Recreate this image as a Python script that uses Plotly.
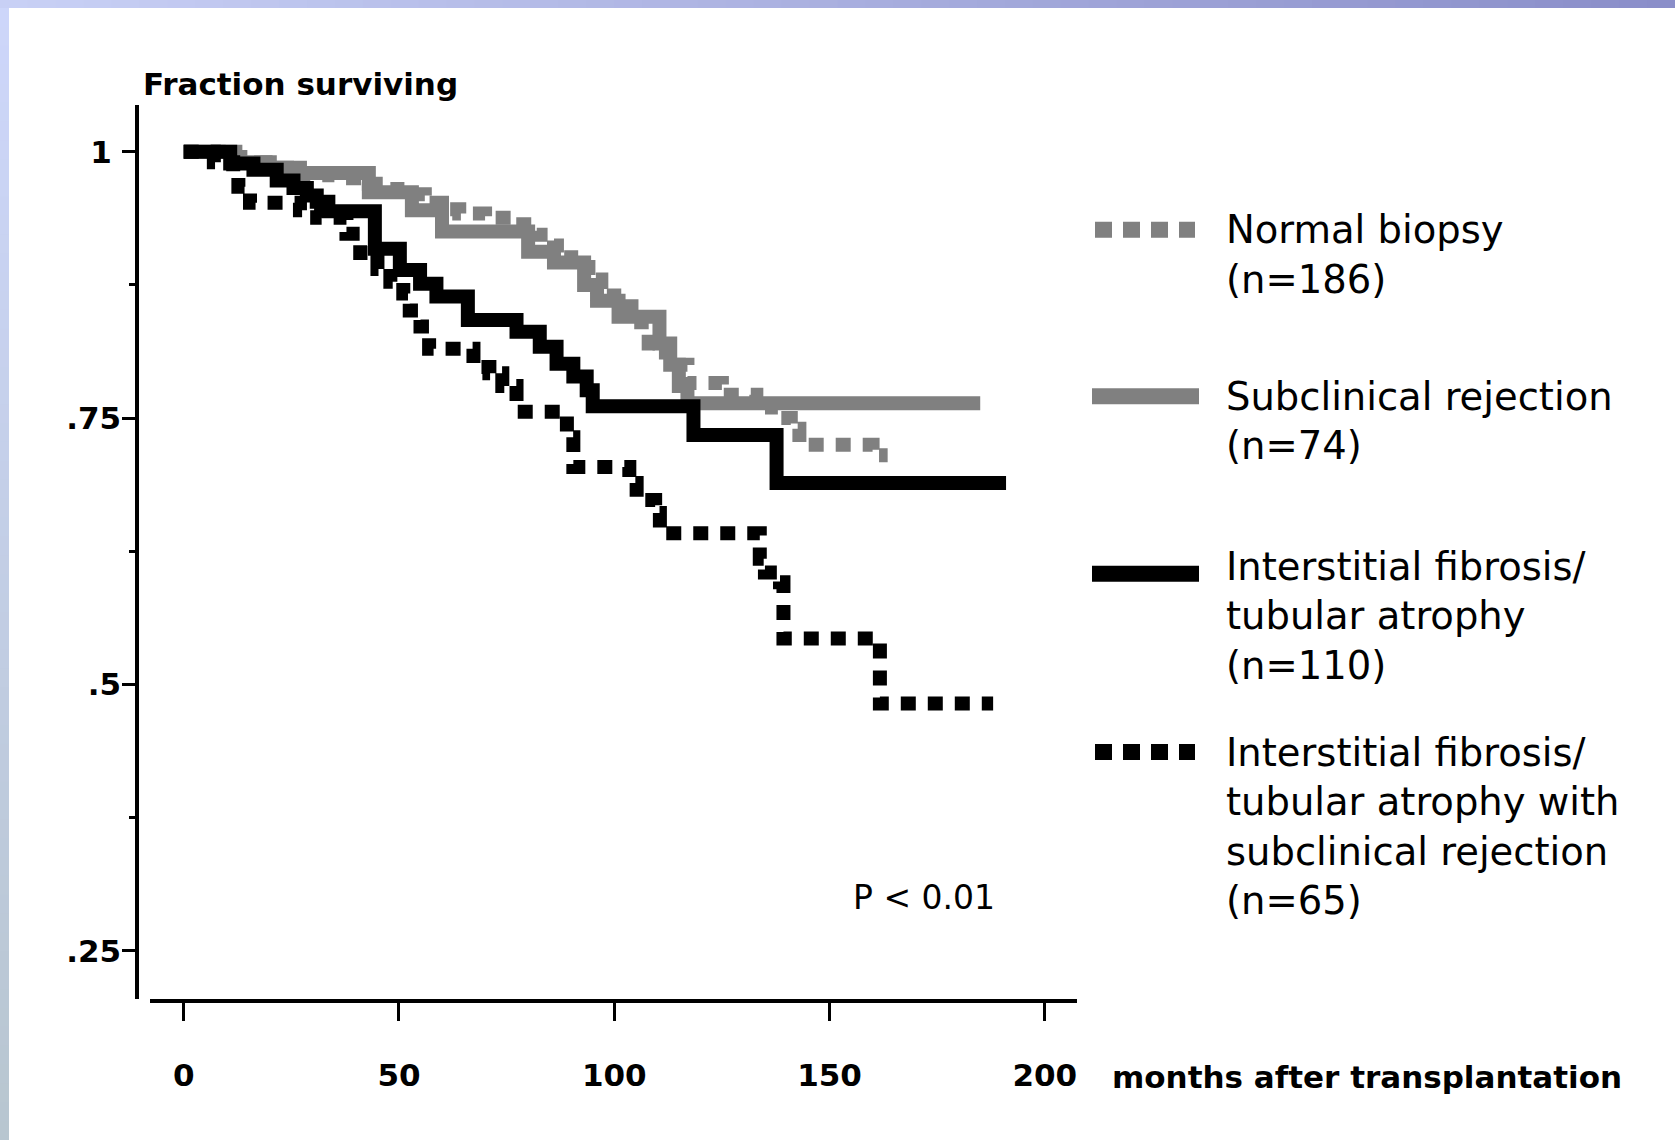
import plotly.graph_objects as go

# ---------------- data ----------------
normal_t = [0, 11, 15, 19, 24, 28, 35, 43, 48, 52, 56, 60, 64, 70, 76, 82, 86, 90, 94, 97,
            100, 104, 108, 112, 117, 125, 133, 138, 141, 143, 160, 163.5]
normal_s = [1.0, 0.995, 0.99, 0.985, 0.98, 0.978, 0.975, 0.97, 0.965, 0.96, 0.952, 0.946,
            0.942, 0.938, 0.932, 0.922, 0.912, 0.90, 0.88, 0.865, 0.855, 0.84, 0.82, 0.80,
            0.783, 0.772, 0.76, 0.75, 0.74, 0.725, 0.715, 0.715]

scr_t = [0, 12, 20, 27, 43, 53, 60, 80, 86, 93, 96, 101, 110.5, 113, 115, 117, 185]
scr_s = [1.0, 0.99, 0.985, 0.98, 0.962, 0.945, 0.925, 0.906, 0.896, 0.875, 0.86, 0.845,
         0.82, 0.80, 0.78, 0.764, 0.764]

ifta_t = [0, 10.8, 16.2, 21.6, 25.5, 28.6, 30.9, 33.6, 44.4, 50.2, 54.9, 58.7, 66, 77.3,
          82.7, 86.6, 90.5, 93.6, 95, 118.4, 137.7, 191]
ifta_s = [1.0, 0.989, 0.983, 0.973, 0.966, 0.959, 0.953, 0.944, 0.909, 0.889, 0.876, 0.864,
          0.842, 0.831, 0.817, 0.801, 0.789, 0.776, 0.761, 0.734, 0.689, 0.689]

iftascr_t = [0, 7, 11.5, 12.7, 15.4, 27, 31, 37.8, 41, 45, 48, 51, 52.5, 55, 57, 67.3, 71,
             74, 77.3, 89, 90.5, 103.5, 105.2, 109.5, 110.6, 133.8, 135, 138.5, 139.3,
             161.7, 188]
iftascr_s = [1.0, 0.99, 0.981, 0.967, 0.952, 0.945, 0.938, 0.923, 0.905, 0.89, 0.878, 0.867,
             0.851, 0.836, 0.815, 0.798, 0.792, 0.780, 0.756, 0.732, 0.704, 0.689, 0.673,
             0.661, 0.642, 0.618, 0.605, 0.596, 0.543, 0.482, 0.482]

x_ticks = [0, 50, 100, 150, 200]
y_ticks = [0.25, 0.5, 0.75, 1.0]
y_ticktext = [".25", ".5", ".75", "1\u2009\u200a"]
y_minor = [0.375, 0.625, 0.875]

legend_labels = [
    ["Normal biopsy", "(n=186)"],
    ["Subclinical rejection", "(n=74)"],
    ["Interstitial fibrosis/", "tubular atrophy", "(n=110)"],
    ["Interstitial fibrosis/", "tubular atrophy with", "subclinical rejection", "(n=65)"],
]

# ---------------- geometry ----------------
W, H = 1675, 1140
L, R, T, B = 137, 1077, 105, 999          # plot area (px)
X0PX, X200PX = 183.7, 1044.8               # pixel of month 0 and 200
Y1PX, Y25PX = 151.7, 950.8                 # pixel of 1.0 and .25
XLINE_START = 149.6

ppm = (X200PX - X0PX) / 200.0
ppv = (Y25PX - Y1PX) / 0.75
x_lo = (XLINE_START - X0PX) / ppm
x_hi = (R - X0PX) / ppm
y_hi = 1 + (Y1PX - T) / ppv
y_lo = 1 - (B - Y1PX) / ppv
x_dom0 = (XLINE_START - L) / (R - L)


def px(xp):
    return (xp - L) / (R - L)


def py(yp):
    return (B - yp) / (B - T)


GRAY = "#808080"
BLACK = "#000000"
LW = 14
DOT = "15px,12px"
LEG_LW = 16
LEG_DOT = "17px,11px"
FONT = "DejaVu Sans"

fig = go.Figure()
series = [
    (normal_t, normal_s, GRAY, True),
    (scr_t, scr_s, GRAY, False),
    (ifta_t, ifta_s, BLACK, False),
    (iftascr_t, iftascr_s, BLACK, True),
]
for t, s, c, dotted in series:
    fig.add_trace(go.Scatter(x=t, y=s, mode="lines", showlegend=False, hoverinfo="skip",
                             line=dict(shape="hv", color=c, width=LW,
                                       dash=DOT if dotted else "solid")))

shapes = []
# background gradient bands
N = 60
c0, c1 = (0xC8, 0xD0, 0xF5), (0x8A, 0x8E, 0xC9)
for i in range(N):
    f = i / (N - 1)
    col = "rgb(%d,%d,%d)" % tuple(round(a + (b - a) * f) for a, b in zip(c0, c1))
    shapes.append(dict(type="rect", xref="paper", yref="paper", layer="below",
                       x0=px(W * i / N), x1=px(W * (i + 1) / N + 1), y0=py(0), y1=py(8),
                       fillcolor=col, line=dict(width=0)))
c0, c1 = (0xCD, 0xD6, 0xFA), (0xB8, 0xC6, 0xD0)
for i in range(N):
    f = i / (N - 1)
    col = "rgb(%d,%d,%d)" % tuple(round(a + (b - a) * f) for a, b in zip(c0, c1))
    shapes.append(dict(type="rect", xref="paper", yref="paper", layer="below",
                       x0=px(0), x1=px(9), y0=py(8 + (H - 8) * i / N),
                       y1=py(8 + (H - 8) * (i + 1) / N + 1),
                       fillcolor=col, line=dict(width=0)))

# manual legend
leg_sym_y = [229.7, 396.3, 573.7, 752.0]
leg_first_y = [229.7, 396.3, 566.2, 752.0]
LINE_GAP = 49.6
for (t, s, c, dotted), ys in zip(series, leg_sym_y):
    if dotted:
        x0s, x1s, d = 1095, 1195, LEG_DOT
    else:
        x0s, x1s, d = 1092, 1199, "solid"
    shapes.append(dict(type="line", xref="paper", yref="paper",
                       x0=px(x0s), x1=px(x1s), y0=py(ys), y1=py(ys),
                       line=dict(color=c, width=LEG_LW, dash=d)))

annotations = []
for lines, y0 in zip(legend_labels, leg_first_y):
    for k, txt in enumerate(lines):
        annotations.append(dict(text=txt, xref="paper", yref="paper", x=px(1224),
                                y=py(y0 + k * LINE_GAP), xanchor="left", yanchor="middle",
                                showarrow=False, font=dict(family=FONT, size=38.5, color="black")))

annotations.append(dict(text="Fraction surviving", xref="paper", yref="paper", x=px(141),
                        y=py(84), xanchor="left", yanchor="middle", showarrow=False,
                        font=dict(family=FONT, size=31, color="black", weight="bold")))
annotations.append(dict(text="months after transplantation", xref="paper", yref="paper",
                        x=px(1110), y=py(1077), xanchor="left", yanchor="middle",
                        showarrow=False,
                        font=dict(family=FONT, size=31, color="black", weight="bold")))
annotations.append(dict(text="P &lt; 0.01", xref="paper", yref="paper", x=px(851),
                        y=py(897), xanchor="left", yanchor="middle", showarrow=False,
                        font=dict(family=FONT, size=33, color="black")))

fig.update_layout(
    width=W, height=H,
    margin=dict(l=L, r=W - R, t=T, b=H - B, pad=0),
    paper_bgcolor="white", plot_bgcolor="white",
    showlegend=False,
    shapes=shapes, annotations=annotations,
    xaxis=dict(domain=[x_dom0, 1], range=[x_lo, x_hi], showgrid=False, zeroline=False,
               showline=True, linecolor="black", linewidth=3.5,
               ticks="outside", ticklen=18, tickwidth=3, tickcolor="black",
               tickmode="array", tickvals=x_ticks, ticklabelstandoff=28,
               tickfont=dict(family=FONT, size=31, color="black", weight="bold")),
    yaxis=dict(anchor="free", position=0, range=[y_lo, y_hi], showgrid=False,
               zeroline=False, showline=True, linecolor="black", linewidth=3.5,
               ticks="outside", ticklen=13, tickwidth=3, tickcolor="black",
               tickmode="array", tickvals=y_ticks, ticktext=y_ticktext,
               ticklabelstandoff=-5,
               minor=dict(tickmode="array", tickvals=y_minor, ticks="outside",
                          ticklen=6, tickwidth=2.5, tickcolor="black", showgrid=False),
               tickfont=dict(family=FONT, size=31, color="black", weight="bold")),
)

fig.write_html("out.html", config={"displayModeBar": False},
               post_script="document.body.style.margin='0';")
